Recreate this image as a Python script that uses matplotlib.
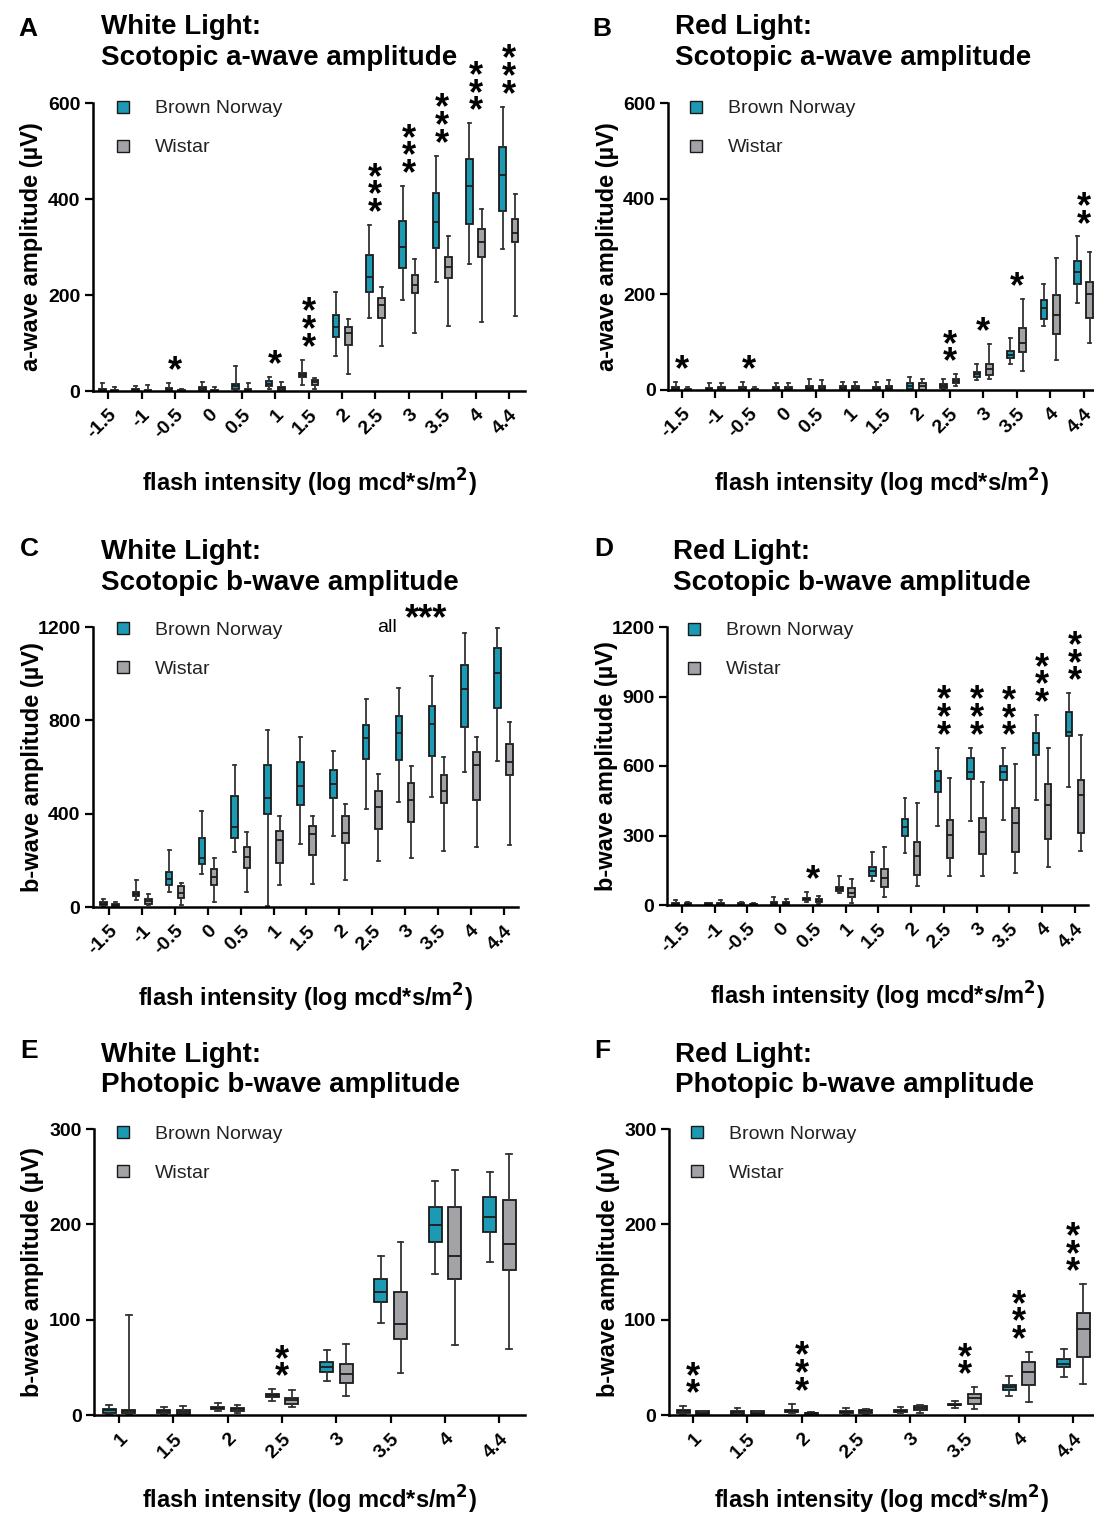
import matplotlib.pyplot as plt
from matplotlib.lines import Line2D

plt.rcParams['font.family'] = ['Liberation Sans', 'DejaVu Sans']

# flash intensities (log mcd*s/m2)
scotopic_int = ['-1.5', '-1', '-0.5', '0', '0.5', '1', '1.5', '2', '2.5', '3', '3.5', '4', '4.4']
photopic_int = ['1', '1.5', '2', '2.5', '3', '3.5', '4', '4.4']

# box stats per intensity: (whisker low, q1, median, q3, whisker high)
# A: white light, scotopic a-wave (uV)
a_white_bn = [(0, 0, 2, 5, 17), (0, 1, 3, 5, 10), (0, 1, 3, 6, 16), (0, 1, 4, 8, 19),
              (2, 5, 10, 14, 53), (5, 10, 15, 21, 29), (12, 29, 33, 37, 65),
              (73, 112, 133, 159, 206), (153, 206, 238, 284, 346), (190, 256, 300, 354, 427),
              (227, 298, 352, 412, 490), (264, 347, 427, 484, 558), (296, 375, 449, 508, 592)]
a_white_wi = [(0, 0, 1, 3, 9), (0, 0, 1, 3, 12), (0, 0, 1, 2, 5), (0, 0, 1, 3, 8),
              (0, 1, 3, 5, 17), (0, 2, 6, 9, 18), (5, 12, 18, 22, 28),
              (35, 96, 121, 133, 150), (93, 152, 180, 194, 216), (121, 204, 220, 241, 276),
              (136, 236, 259, 279, 323), (143, 279, 310, 337, 380), (157, 311, 330, 358, 410)]
# B: red light, scotopic a-wave
a_red_bn = [(0, 1, 3, 6, 17), (0, 1, 3, 5, 14), (0, 1, 3, 6, 17), (0, 1, 3, 6, 14),
            (0, 2, 5, 9, 24), (0, 2, 4, 8, 17), (0, 1, 3, 6, 17), (0, 3, 8, 14, 28),
            (3, 5, 9, 12, 24), (21, 28, 33, 37, 54), (54, 66, 74, 82, 108),
            (134, 148, 171, 188, 221), (181, 222, 247, 269, 321)]
a_red_wi = [(0, 0, 1, 3, 7), (0, 1, 3, 6, 15), (0, 0, 1, 3, 7), (0, 1, 3, 6, 14),
            (0, 1, 4, 8, 20), (0, 1, 4, 8, 17), (0, 2, 5, 9, 21), (0, 1, 8, 15, 24),
            (8, 15, 19, 22, 33), (23, 31, 43, 54, 96), (40, 80, 99, 130, 190),
            (63, 118, 157, 198, 275), (98, 150, 200, 226, 289)]
# C: white light, scotopic b-wave
b_white_bn = [(0, 7, 14, 21, 33), (31, 46, 54, 63, 114), (63, 93, 120, 150, 243),
              (141, 183, 211, 296, 410), (234, 297, 343, 474, 607), (5, 397, 469, 609, 760),
              (270, 436, 519, 623, 729), (306, 466, 526, 589, 669), (420, 633, 724, 780, 891),
              (450, 629, 746, 820, 940), (473, 649, 786, 861, 989), (579, 770, 936, 1039, 1176),
              (627, 853, 1004, 1111, 1197)]
b_white_wi = [(0, 3, 7, 12, 21), (7, 11, 24, 33, 57), (7, 39, 60, 89, 104),
              (21, 93, 129, 161, 210), (63, 169, 214, 257, 321), (93, 190, 286, 326, 390),
              (100, 221, 311, 346, 389), (117, 274, 319, 389, 441), (196, 334, 429, 497, 569),
              (210, 364, 460, 530, 604), (240, 446, 497, 566, 643), (257, 457, 607, 663, 729),
              (264, 567, 621, 699, 794)]
# D: red light, scotopic b-wave
b_red_bn = [(0, 2, 5, 10, 22), (0, 2, 4, 7, 10), (0, 2, 5, 8, 13), (0, 4, 8, 13, 36),
            (14, 22, 27, 32, 56), (50, 62, 71, 79, 127), (104, 125, 146, 163, 229),
            (224, 298, 335, 373, 464), (342, 486, 536, 580, 679), (363, 545, 572, 633, 679),
            (368, 538, 574, 601, 676), (453, 647, 699, 741, 820), (508, 731, 747, 835, 914)]
b_red_wi = [(0, 2, 5, 8, 13), (0, 2, 5, 9, 22), (0, 1, 3, 6, 10), (0, 4, 8, 13, 26),
            (4, 12, 19, 26, 40), (7, 33, 53, 72, 111), (33, 79, 115, 154, 252),
            (84, 130, 212, 270, 440), (127, 205, 303, 365, 548), (125, 221, 313, 375, 529),
            (137, 228, 356, 418, 607), (162, 286, 430, 522, 676), (235, 310, 474, 539, 733)]
# E: white light, photopic b-wave
p_white_bn = [(1, 2, 5, 6, 10), (1, 2, 4, 5, 8), (4, 6, 7, 8, 13), (15, 19, 21, 22, 27),
              (36, 45, 50, 56, 68), (96, 119, 129, 143, 167), (148, 181, 199, 218, 245),
              (161, 192, 208, 229, 255)]
p_white_wi = [(1, 2, 4, 5, 105), (0, 1, 3, 5, 9), (2, 4, 6, 7, 10), (8, 12, 16, 18, 26),
              (20, 34, 43, 54, 74), (44, 80, 95, 129, 181), (73, 143, 167, 218, 257),
              (69, 152, 179, 226, 274)]
# F: red light, photopic b-wave
p_red_bn = [(1, 2, 4, 5, 9), (1, 1, 3, 4, 7), (2, 3, 4, 5, 12), (1, 2, 3, 4, 7),
            (2, 3, 4, 5, 8), (7, 10, 11, 12, 15), (20, 26, 29, 31, 41), (40, 50, 54, 59, 69)]
p_red_wi = [(1, 1, 2, 4, 4), (1, 1, 2, 4, 4), (1, 1, 2, 2, 3), (1, 2, 4, 5, 6),
            (2, 5, 7, 9, 11), (6, 12, 18, 22, 29), (14, 31, 45, 56, 66), (32, 61, 90, 107, 137)]

# number of significance stars per intensity
stars_a_white = [0, 0, 1, 0, 0, 1, 3, 0, 3, 3, 3, 3, 3]
stars_a_red = [1, 0, 1, 0, 0, 0, 0, 0, 2, 1, 1, 0, 2]
stars_b_white = [0] * 13
stars_b_red = [0, 0, 0, 0, 1, 0, 0, 0, 3, 3, 3, 3, 3]
stars_p_white = [0, 0, 0, 2, 0, 0, 0, 0]
stars_p_red = [2, 0, 3, 0, 0, 2, 3, 3]

BN_COL = '#1C9AB4'
WI_COL = '#A2A2A7'
EDGE = '#1a1a1a'

W, H = 1094, 1515
fig = plt.figure(figsize=(W / 100, H / 100), dpi=100)


def add_ax(l, t, r, b):
    return fig.add_axes([l / W, 1 - b / H, (r - l) / W, (b - t) / H])


def draw_boxes(ax, stats, offset, width, color):
    st = [dict(whislo=s[0], q1=s[1], med=s[2], q3=s[3], whishi=s[4]) for s in stats]
    pos = [i + offset for i in range(len(stats))]
    ax.bxp(st, positions=pos, widths=width, capwidths=width * 0.45, patch_artist=True,
           showfliers=False, manage_ticks=False,
           boxprops=dict(facecolor=color, edgecolor=EDGE, linewidth=1.3),
           medianprops=dict(color=EDGE, linewidth=1.3),
           whiskerprops=dict(color='#333333', linewidth=1.3),
           capprops=dict(color='#333333', linewidth=1.3))


def add_stars(ax, counts, bn, wi):
    # stacked asterisks above the higher whisker of each pair
    for i, n in enumerate(counts):
        if n == 0:
            continue
        top = max(bn[i][4], wi[i][4])
        ax.annotate('\n'.join(['*'] * n), xy=(i, top), xytext=(0, -4.5),
                    textcoords='offset points', ha='center', va='bottom', fontsize=26,
                    fontweight='bold', linespacing=0.36, annotation_clip=False)


panels = [
    dict(letter='A', title='White Light:\nScotopic a-wave amplitude', box=(93, 103, 525, 391),
         xlim=(-0.46, 12.48), ylim=600, yticks=[0, 200, 400, 600], cats=scotopic_int,
         bn=a_white_bn, wi=a_white_wi, stars=stars_a_white, ylabel='a-wave amplitude (µV)',
         leg=(0.046, 1.011), xl=-0.262, lx=18, ly=17, tx=101, ty=14.5),
    dict(letter='B', title='Red Light:\nScotopic a-wave amplitude', box=(668, 103, 1094, 390),
         xlim=(-0.41, 12.31), ylim=600, yticks=[0, 200, 400, 600], cats=scotopic_int,
         bn=a_red_bn, wi=a_red_wi, stars=stars_a_red, ylabel='a-wave amplitude (µV)',
         leg=(0.042, 1.011), xl=-0.266, lx=592, ly=17, tx=675, ty=14.5),
    dict(letter='C', title='White Light:\nScotopic b-wave amplitude', box=(93, 627, 518, 907),
         xlim=(-0.5, 12.44), ylim=1200, yticks=[0, 400, 800, 1200], cats=scotopic_int,
         bn=b_white_bn, wi=b_white_wi, stars=stars_b_white, ylabel='b-wave amplitude (µV)',
         leg=(0.047, 1.019), xl=-0.267, lx=20, ly=537, tx=101, ty=539.5),
    dict(letter='D', title='Red Light:\nScotopic b-wave amplitude', box=(667, 627, 1088, 905),
         xlim=(-0.45, 12.4), ylim=1200, yticks=[0, 300, 600, 900, 1200], cats=scotopic_int,
         bn=b_red_bn, wi=b_red_wi, stars=stars_b_red, ylabel='b-wave amplitude (µV)',
         leg=(0.04, 1.019), xl=-0.27, lx=594, ly=537, tx=673, ty=539.5),
    dict(letter='E', title='White Light:\nPhotopic b-wave amplitude', box=(94, 1129, 525, 1415),
         xlim=(-0.46, 7.47), ylim=300, yticks=[0, 100, 200, 300], cats=photopic_int,
         bn=p_white_bn, wi=p_white_wi, stars=stars_p_white, ylabel='b-wave amplitude (µV)',
         leg=(0.044, 1.014), xl=-0.24, lx=20, ly=1039, tx=101, ty=1041.5),
    dict(letter='F', title='Red Light:\nPhotopic b-wave amplitude', box=(669, 1129, 1094, 1415),
         xlim=(-0.44, 7.38), ylim=300, yticks=[0, 100, 200, 300], cats=photopic_int,
         bn=p_red_bn, wi=p_red_wi, stars=stars_p_red, ylabel='b-wave amplitude (µV)',
         leg=(0.042, 1.014), xl=-0.24, lx=594, ly=1039, tx=675, ty=1041.5),
]

for p in panels:
    ax = add_ax(*p['box'])
    n = len(p['cats'])
    if n == 13:
        off, wid = 0.185, 0.2
    else:
        off, wid = 0.18, 0.24
    draw_boxes(ax, p['bn'], -off, wid, BN_COL)
    draw_boxes(ax, p['wi'], off, wid, WI_COL)
    add_stars(ax, p['stars'], p['bn'], p['wi'])

    ax.set_xlim(*p['xlim'])
    ax.set_ylim(0, p['ylim'])
    ax.set_yticks(p['yticks'])
    ax.set_yticklabels([str(v) for v in p['yticks']], fontsize=14, fontweight='bold')
    ax.set_xticks(range(n))
    ax.set_xticklabels(p['cats'], rotation=45, ha='right', rotation_mode='anchor',
                       fontsize=14, fontweight='bold')
    for s in ['top', 'right']:
        ax.spines[s].set_visible(False)
    for s in ['left', 'bottom']:
        ax.spines[s].set_linewidth(1.8)
    ax.tick_params(axis='both', width=1.6, length=6, pad=3)
    ax.tick_params(axis='x', pad=5)

    ax.set_ylabel(p['ylabel'], fontsize=17, fontweight='bold')
    ax.yaxis.set_label_coords(-0.116, 0.5)
    ax.set_xlabel('flash intensity (log mcd*s/m$^\\mathbf{2}$)', fontsize=17, fontweight='bold')
    ax.xaxis.set_label_coords(0.5, p['xl'])

    handles = [Line2D([], [], marker='s', linestyle='none', markersize=8, markerfacecolor=BN_COL,
                      markeredgecolor=EDGE, markeredgewidth=1),
               Line2D([], [], marker='s', linestyle='none', markersize=8, markerfacecolor=WI_COL,
                      markeredgecolor=EDGE, markeredgewidth=1)]
    leg = ax.legend(handles, ['Brown Norway', 'Wistar'], loc='upper left', bbox_to_anchor=p['leg'],
                    frameon=False, fontsize=14, handlelength=1.0, handletextpad=1.15,
                    labelspacing=1.1, borderpad=0, borderaxespad=0)
    for t in leg.get_texts():
        t.set_color('#222222')

    fig.text(p['lx'] / W, 1 - p['ly'] / H, p['letter'], fontsize=19, fontweight='bold',
             ha='left', va='top')
    fig.text(p['tx'] / W, 1 - p['ty'] / H, p['title'], fontsize=20, fontweight='bold',
             ha='left', va='top', linespacing=1.22)

    if p['letter'] == 'C':
        ax.text(8.46, 1200, 'all', ha='center', va='center', fontsize=14, clip_on=False)
        ax.text(9.65, 1230, '***', ha='center', va='center', fontsize=26, fontweight='bold',
                clip_on=False)

fig.savefig('out.png', dpi=100)
